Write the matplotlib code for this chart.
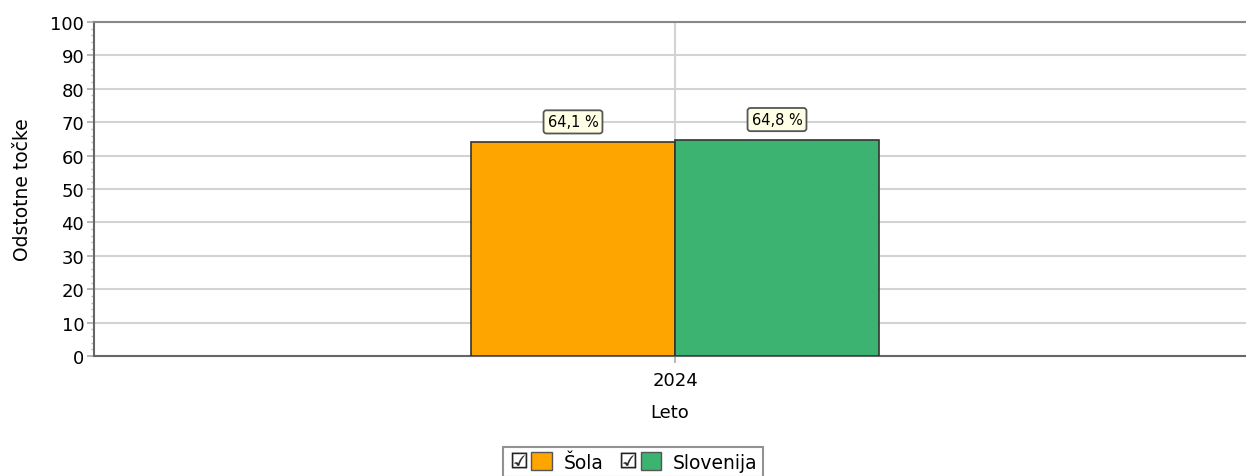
import numpy as np
import matplotlib.pyplot as plt
from matplotlib.lines import Line2D
from matplotlib.patches import Patch
from matplotlib.legend_handler import HandlerTuple
from matplotlib.ticker import MultipleLocator

# Podatki
leta = ['2024']
serije = ['Šola', 'Slovenija']
vrednosti = [64.1, 64.8]
oznake = ['64,1 %', '64,8 %']
barve = ['#ffa500', '#3cb371']

fig = plt.figure(figsize=(12.46, 4.77), dpi=100)
ax = fig.add_axes([94 / 1246, 1 - 357 / 477, 1 - 94 / 1246, 334 / 477])

x = np.arange(len(leta))
sirina = 1.0
for i, (s, v, b) in enumerate(zip(serije, vrednosti, barve)):
    pos = x + (i - 0.5) * sirina
    ax.bar(pos, v, width=sirina, color=b, edgecolor='#333333', linewidth=1.2, zorder=3, label=s)
    for p, val in zip(pos, [v]):
        ax.annotate(oznake[i], (p, val), xytext=(0, 9), textcoords='offset points',
                    ha='center', va='bottom', fontsize=10.5, zorder=5,
                    bbox=dict(boxstyle='round,pad=0.28,rounding_size=0.2', fc='#ffffe6',
                              ec='#555555', lw=1.3))

ax.set_xlim(-581 / 204, 571 / 204)
ax.set_ylim(0, 100)
ax.set_xticks(x)
ax.set_xticklabels(leta, fontsize=13)
ax.yaxis.set_major_locator(MultipleLocator(10))
ax.yaxis.set_minor_locator(MultipleLocator(2))
ax.tick_params(axis='y', which='major', labelsize=13, length=5, color='#aaaaaa', width=1.2, pad=2)
ax.tick_params(axis='y', which='minor', length=2, color='#bbbbbb', width=1)
ax.tick_params(axis='x', length=5, color='#aaaaaa', width=1.2, pad=6)

ax.grid(True, axis='both', which='major', color='#d3d3d3', linewidth=1.5, zorder=0)
for sp in ['left', 'bottom']:
    ax.spines[sp].set_color('#666666')
    ax.spines[sp].set_linewidth(1.5)
ax.spines['top'].set_color('#888888')
ax.spines['top'].set_linewidth(1.5)
ax.spines['right'].set_visible(False)

ax.set_ylabel('Odstotne točke', fontsize=13.5, labelpad=13)
ax.set_xlabel('Leto', fontsize=13, labelpad=10)

# Legenda s potrditvenimi polji
handles = []
for b in barve:
    kljuk = Line2D([], [], marker='$\u2611$', markersize=11, color='#222222',
                   markeredgewidth=0.3, linestyle='none')
    handles.append((kljuk, Patch(facecolor=b, edgecolor='#555555')))
leg = fig.legend(handles, serije, loc='center', bbox_to_anchor=(633 / 1246, 1 - 463 / 477),
                 ncol=2, fontsize=13.5, frameon=True, fancybox=False, edgecolor='#777777',
                 handler_map={tuple: HandlerTuple(ndivide=None, pad=0.1)},
                 handlelength=2.3, handleheight=1.1, columnspacing=0.8, handletextpad=0.6,
                 borderpad=0.3, borderaxespad=0)
leg.get_frame().set_linewidth(1.5)

fig.savefig('out.png', dpi=100)
